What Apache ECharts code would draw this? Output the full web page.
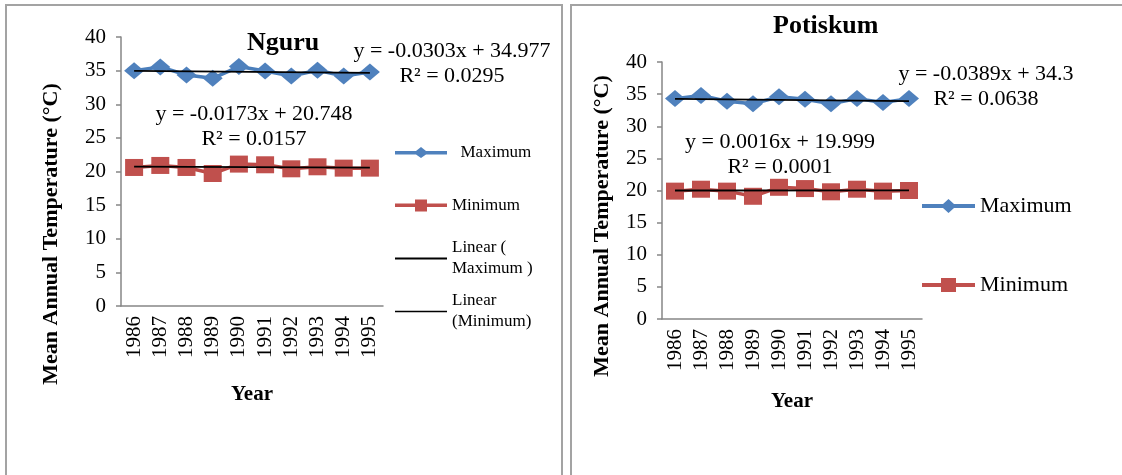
<!DOCTYPE html>
<html>
<head>
<meta charset="utf-8">
<script src="https://cdn.jsdelivr.net/npm/echarts@6/dist/echarts.min.js"></script>
<style>
  html, body { margin: 0; padding: 0; background: #fff; }
  #main { width: 1122px; height: 475px; }
</style>
</head>
<body>
<div id="main"></div>
<script>
// data
var years = ['1986', '1987', '1988', '1989', '1990', '1991', '1992', '1993', '1994', '1995'];
var yMin = 0, yMax = 40, yStep = 5;

var nguruMax = [35.0, 35.55, 34.35, 33.85, 35.6, 34.95, 34.2, 35.05, 34.2, 34.8];
var nguruMin = [20.6, 20.9, 20.6, 19.7, 21.1, 21.0, 20.4, 20.7, 20.5, 20.5];
var potiskumMax = [34.3, 34.8, 33.9, 33.5, 34.6, 34.2, 33.5, 34.3, 33.7, 34.3];
var potiskumMin = [19.9, 20.2, 19.9, 19.1, 20.5, 20.3, 19.8, 20.2, 19.9, 20.0];

// trend line ends (1986, 1995)
var nguruTrendMax = [34.95, 34.67];
var nguruTrendMin = [20.73, 20.58];
var potiskumTrendMax = [34.26, 33.91];
var potiskumTrendMin = [20.00, 20.02];

var nguruEq = ['y = -0.0303x + 34.977\nR² = 0.0295', 'y = -0.0173x + 20.748\nR² = 0.0157'];
var potiskumEq = ['y = -0.0389x + 34.3\nR² = 0.0638', 'y = 0.0016x + 19.999\nR² = 0.0001'];

var FONT = '"Liberation Serif", "Times New Roman", serif';
var axisGrey = '#868686';

// legend icons: thick line with the marker in the middle (Excel style)
var iconMaxSmall = 'path://M0,4L21,4L26,0L31,4L52,4L52,7.5L31,7.5L26,11L21,7.5L0,7.5Z';
var iconMinSmall = 'path://M0,4L20,4L20,0L32,0L32,4L52,4L52,7.5L32,7.5L32,12L20,12L20,7.5L0,7.5Z';
var iconMaxBig = 'path://M0,5L21,5L26.5,0L32,5L53,5L53,9L32,9L26.5,14L21,9L0,9Z';
var iconMinBig = 'path://M0,5L19,5L19,0L34,0L34,5L53,5L53,9L34,9L34,14L19,14L19,9L0,9Z';

function trend(ends) {
  return years.map(function (y, i) {
    if (i === 0) return ends[0];
    if (i === years.length - 1) return ends[1];
    return null;
  });
}

function xAxisFor(idx, gap) {
  return {
    type: 'category', gridIndex: idx, data: years, boundaryGap: true,
    axisLine: { lineStyle: { color: axisGrey, width: 1.5 } },
    axisTick: { length: 6, interval: 0, lineStyle: { color: axisGrey, width: 1.5 } },
    axisLabel: { interval: 0, rotate: 90, fontSize: 21, fontFamily: FONT, color: '#000', margin: 10 },
    name: 'Year', nameLocation: 'middle', nameGap: gap,
    nameTextStyle: { fontSize: 21, fontWeight: 'bold', fontFamily: FONT, color: '#000' }
  };
}

function yAxisFor(idx) {
  return {
    type: 'value', gridIndex: idx, min: yMin, max: yMax, interval: yStep,
    axisLine: { show: true, lineStyle: { color: axisGrey, width: 1.5 } },
    axisTick: { show: true, length: 5, lineStyle: { color: axisGrey, width: 1.5 } },
    splitLine: { show: false },
    axisLabel: { fontSize: 21, fontFamily: FONT, color: '#000', margin: 15 }
  };
}

function maxSeries(name, idx, data) {
  return {
    name: name, type: 'line', xAxisIndex: idx, yAxisIndex: idx, data: data,
    symbol: 'diamond', symbolSize: [20, 17],
    itemStyle: { color: '#4F81BD' },
    lineStyle: { color: '#4A7EBB', width: 3.5 }, z: 2
  };
}
function minSeries(name, idx, data) {
  return {
    name: name, type: 'line', xAxisIndex: idx, yAxisIndex: idx, data: data,
    symbol: 'rect', symbolSize: [18, 17],
    itemStyle: { color: '#C0504D' },
    lineStyle: { color: '#BE4B48', width: 3.5 }, z: 2
  };
}
function trendSeries(name, idx, ends) {
  return {
    name: name, type: 'line', xAxisIndex: idx, yAxisIndex: idx, data: trend(ends),
    connectNulls: true, symbol: 'none', silent: true,
    itemStyle: { color: '#000' },
    lineStyle: { color: '#000', width: 1.8 }, z: 5
  };
}

function legendAt(name, icon, left, top, opts) {
  var l = {
    data: [{ name: name, icon: icon }], orient: 'vertical', left: left, top: top, padding: 0,
    selectedMode: false, symbolKeepAspect: false,
    itemWidth: opts.w, itemHeight: opts.h,
    textStyle: { fontSize: opts.fs, fontFamily: FONT, color: '#000', lineHeight: opts.lh || opts.fs + 4 }
  };
  if (opts.pad) l.textStyle.padding = opts.pad;
  if (opts.fmt) l.formatter = opts.fmt;
  return l;
}

function eqText(txt, x, y) {
  return {
    type: 'text', x: x, y: y,
    style: { text: txt, align: 'center', verticalAlign: 'top', font: '22px ' + FONT, lineHeight: 25, fill: '#000' }
  };
}

var chart = echarts.init(document.getElementById('main'));

var option = {
  animation: false,
  backgroundColor: '#fff',
  title: [
    { text: 'Nguru', left: 247, top: 30, padding: 0,
      textStyle: { fontSize: 26, fontWeight: 'bold', fontFamily: FONT, color: '#000' } },
    { text: 'Potiskum', left: 773, top: 13, padding: 0,
      textStyle: { fontSize: 26, fontWeight: 'bold', fontFamily: FONT, color: '#000' } }
  ],
  grid: [
    { left: 121, top: 37, width: 262, height: 269 },
    { left: 662, top: 62, width: 260, height: 257 }
  ],
  xAxis: [xAxisFor(0, 78), xAxisFor(1, 72)],
  yAxis: [yAxisFor(0), yAxisFor(1)],
  legend: [
    legendAt('Maximum', iconMaxSmall, 395, 142, { w: 52, h: 11, fs: 17, fmt: '  {name}' }),
    legendAt('Minimum', iconMinSmall, 395, 195, { w: 52, h: 12, fs: 17 }),
    legendAt('Linear (\nMaximum )', 'rect', 395, 227, { w: 52, h: 2, fs: 17, lh: 21, pad: [21, 0, 0, 0] }),
    legendAt('Linear\n(Minimum)', 'rect', 395, 280, { w: 52, h: 1.6, fs: 17, lh: 21, pad: [21, 0, 0, 0] }),
    legendAt('Maximum', iconMaxBig, 922, 193, { w: 53, h: 14, fs: 22 }),
    legendAt('Minimum', iconMinBig, 922, 272, { w: 53, h: 14, fs: 22 })
  ],
  series: [
    maxSeries('Maximum', 0, nguruMax),
    minSeries('Minimum', 0, nguruMin),
    trendSeries('Linear (\nMaximum )', 0, nguruTrendMax),
    trendSeries('Linear\n(Minimum)', 0, nguruTrendMin),
    maxSeries('Maximum', 1, potiskumMax),
    minSeries('Minimum', 1, potiskumMin),
    trendSeries('Linear (Maximum) P', 1, potiskumTrendMax),
    trendSeries('Linear (Minimum) P', 1, potiskumTrendMin)
  ],
  graphic: [
    // panel frames
    { type: 'rect', shape: { x: 6, y: 5, width: 556, height: 490 }, silent: true,
      style: { fill: 'none', stroke: '#a3a3a3', lineWidth: 2 } },
    { type: 'rect', shape: { x: 571, y: 5, width: 580, height: 490 }, silent: true,
      style: { fill: 'none', stroke: '#a3a3a3', lineWidth: 2 } },
    // y axis titles
    { type: 'text', x: 51, y: 234, rotation: Math.PI / 2,
      style: { text: 'Mean Annual Temperature (°C)', align: 'center', verticalAlign: 'middle',
               font: 'bold 22px ' + FONT, fill: '#000' } },
    { type: 'text', x: 602, y: 226, rotation: Math.PI / 2,
      style: { text: 'Mean Annual Temperature (°C)', align: 'center', verticalAlign: 'middle',
               font: 'bold 22px ' + FONT, fill: '#000' } },
    // trend equations
    eqText(nguruEq[0], 452, 39),
    eqText(nguruEq[1], 254, 102),
    eqText(potiskumEq[0], 986, 62),
    eqText(potiskumEq[1], 780, 130)
  ]
};

chart.setOption(option);
</script>
</body>
</html>
